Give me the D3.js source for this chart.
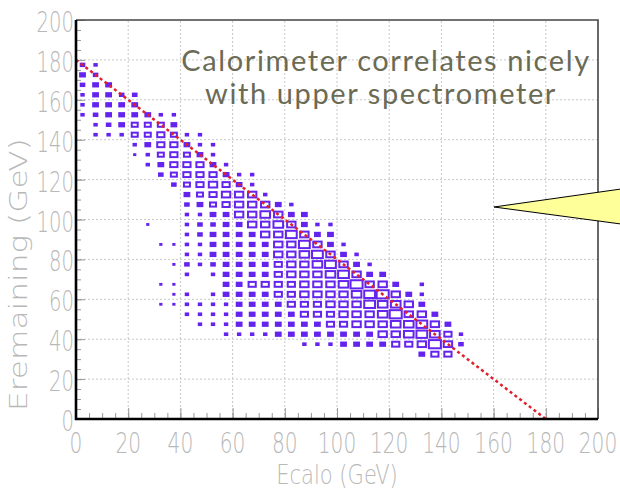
<!DOCTYPE html>
<html>
<head>
<meta charset="utf-8">
<title>Ecalo vs Eremaining</title>
<script src="https://cdnjs.cloudflare.com/ajax/libs/d3/7.8.5/d3.min.js"></script>
<style>
body { margin: 0; background: #fff; }
</style>
</head>
<body>
<div id="chart"></div>
<script>
// Ecalo bin centres (GeV), 5 GeV wide bins
var binX = [2.5, 7.5, 12.5, 17.5, 22.5, 27.5, 32.5, 37.5, 42.5, 47.5,
            52.5, 57.5, 62.5, 67.5, 72.5, 77.5, 82.5, 87.5, 92.5, 97.5,
            102.5, 107.5, 112.5, 117.5, 122.5, 127.5, 132.5, 137.5, 142.5, 147.5];
// highest Eremaining bin centre filled in each column
var binTop = [177.5, 177.5, 167.5, 162.5, 162.5, 152.5, 152.5, 152.5, 142.5, 142.5,
              137.5, 127.5, 122.5, 122.5, 112.5, 107.5, 107.5, 102.5, 97.5, 97.5,
              87.5, 82.5, 77.5, 72.5, 67.5, 62.5, 67.5, 52.5, 47.5, 42.5];
// bin contents going down from binTop in 5 GeV steps
var binCounts = [
  [3,4,3,2,2,2],
  [2,3,4,4,4,3,2,2],
  [4,4,4,4,3,2],
  [3,4,4,4,2],
  [3,4,4,5,5,2,1],
  [4,5,5,4,2,2,0,0,0,0,0,1],
  [2,5,6,6,5,4,3,0,0,0,0,0,0,1,0,0,0,1,0,1],
  [2,4,5,6,6,6,5,3,0,0,0,0,0,1,0,1,0,1,1,1],
  [2,4,5,6,6,5,4,3,2,2,2,2,2,3,2,0,2,2,2],
  [2,2,4,6,6,6,5,4,2,3,3,2,2,2,0,0,0,2,2,2],
  [2,2,4,6,7,6,5,4,3,4,4,4,3,2,0,2,2,2,2],
  [2,4,6,7,6,4,4,4,4,4,4,4,4,4,2,2,2,2],
  [2,4,7,7,7,4,4,4,4,4,4,4,4,4,4,4,2],
  [2,2,7,7,7,7,4,4,4,4,4,6,4,4,4,4,2],
  [2,7,8,7,7,4,4,4,4,6,4,4,4,4,2],
  [4,7,8,7,7,7,6,6,6,6,4,4,4,4],
  [2,4,7,9,7,7,7,7,6,6,6,4,4,4],
  [4,4,7,9,8,7,7,7,7,6,6,4,4,2],
  [2,4,7,9,8,7,7,7,6,6,4,4,2],
  [2,4,4,7,9,8,7,7,7,6,6,4,2],
  [2,4,7,9,8,7,7,7,6,4,4],
  [2,4,7,10,8,7,7,7,4,4],
  [2,4,7,9,9,7,7,4,4],
  [4,7,10,8,8,7,7,4],
  [4,7,8,10,8,7,6],
  [4,7,7,8,8,6],
  [2,2,4,7,9,9,7,4],
  [4,7,8,10,6],
  [4,6,7,6],
  [2,3]
];
var majorTicks = [0, 20, 40, 60, 80, 100, 120, 140, 160, 180, 200];
var gridTicks = [20, 40, 60, 80, 100, 120, 140, 160, 180];
var lineEnds = [[0, 180], [180, 0]];
var xTitle = "Ecalo (GeV)";
var yTitle = "Eremaining (GeV)";
var noteLines = ["Calorimeter correlates nicely", "with upper spectrometer"];

var width = 620, height = 497;
var svg = d3.select("#chart").append("svg")
  .attr("width", width)
  .attr("height", height);

var x = d3.scaleLinear().domain([0, 200]).range([76, 598]);
var y = d3.scaleLinear().domain([0, 200]).range([419, 20]);
var binW = x(5) - x(0), binH = y(0) - y(5);
var maxC = d3.max(binCounts, function(d) { return d3.max(d); });
var labelFont = "'DejaVu Sans', sans-serif";
var labelColor = "#b8b8b8";

// dotted grid
svg.append("g").selectAll("line").data(gridTicks).join("line")
  .attr("x1", function(d) { return x(d); }).attr("x2", function(d) { return x(d); })
  .attr("y1", y(0)).attr("y2", y(200))
  .attr("stroke", "#c8c8c8").attr("stroke-dasharray", "2,2");
svg.append("g").selectAll("line").data(gridTicks).join("line")
  .attr("y1", function(d) { return y(d); }).attr("y2", function(d) { return y(d); })
  .attr("x1", x(0)).attr("x2", x(200))
  .attr("stroke", "#c8c8c8").attr("stroke-dasharray", "2,2");

// minor and major ticks, pointing into the frame (labels drawn separately)
var xMinor = d3.axisBottom(x).ticks(40).tickSize(-6).tickFormat("");
var xMajor = d3.axisBottom(x).tickValues(majorTicks).tickSize(-11).tickFormat("");
var yMinor = d3.axisLeft(y).ticks(40).tickSize(-5).tickFormat("");
var yMajor = d3.axisLeft(y).tickValues(majorTicks).tickSize(-9).tickFormat("");

function styleAxis(g) {
  g.select(".domain").remove();
  g.selectAll(".tick line").attr("stroke", "#999");
}
svg.append("g").attr("transform", "translate(0," + y(0) + ")").call(xMinor).call(styleAxis);
svg.append("g").attr("transform", "translate(0," + y(0) + ")").call(xMajor).call(styleAxis);
svg.append("g").attr("transform", "translate(" + x(0) + ",0)").call(yMinor).call(styleAxis);
svg.append("g").attr("transform", "translate(" + x(0) + ",0)").call(yMajor).call(styleAxis);

// tick labels, condensed light look
svg.append("g").selectAll("text").data(majorTicks).join("text")
  .attr("transform", function(d) { return "translate(" + x(d) + ",453) scale(0.72,1)"; })
  .attr("text-anchor", "middle")
  .attr("fill", labelColor)
  .style("font-family", labelFont).style("font-weight", 200)
  .style("font-size", "28px")
  .text(function(d) { return d; });
svg.append("g").selectAll("text").data(majorTicks).join("text")
  .attr("transform", function(d) { return "translate(74," + (y(d) + 12) + ") scale(0.7,1)"; })
  .attr("text-anchor", "end")
  .attr("fill", labelColor)
  .style("font-family", labelFont).style("font-weight", 200)
  .style("font-size", "28px")
  .text(function(d) { return d; });

// boxes
var cells = [];
binX.forEach(function(bx, i) {
  binCounts[i].forEach(function(c, j) {
    if (c > 0) cells.push({ x: bx, y: binTop[i] - 5 * j, c: c });
  });
});
svg.append("g").selectAll("rect").data(cells).join("rect")
  .attr("x", function(d) { return x(d.x) - binW * 0.92 * d.c / maxC / 2; })
  .attr("y", function(d) { return y(d.y) - binH * 0.82 * d.c / maxC / 2; })
  .attr("width", function(d) { return binW * 0.92 * d.c / maxC; })
  .attr("height", function(d) { return binH * 0.82 * d.c / maxC; })
  .attr("fill", function(d) { return d.c <= 4 ? "#6424ee" : "#fff"; })
  .attr("stroke", "#6424ee")
  .attr("stroke-width", 2);

// expected correlation line
svg.append("line")
  .attr("x1", x(lineEnds[0][0])).attr("y1", y(lineEnds[0][1]))
  .attr("x2", x(lineEnds[1][0])).attr("y2", y(lineEnds[1][1]))
  .attr("stroke", "#e0202c").attr("stroke-width", 2.5)
  .attr("stroke-dasharray", "3,3");

// frame
svg.append("path")
  .attr("d", "M" + x(0) + "," + y(200) + "H" + x(200) + "V" + y(0))
  .attr("fill", "none").attr("stroke", "#444").attr("stroke-width", 1.6);
svg.append("path")
  .attr("d", "M" + x(0) + "," + y(200) + "V" + y(0) + "H" + x(200))
  .attr("fill", "none").attr("stroke", "#000").attr("stroke-width", 2.6);

// axis titles
svg.append("text")
  .attr("transform", "translate(" + (x(0) + x(200)) / 2 + ",484) scale(0.78,1)")
  .attr("text-anchor", "middle")
  .attr("fill", labelColor)
  .style("font-family", labelFont).style("font-weight", 200)
  .style("font-size", "27px")
  .text(xTitle);
svg.append("text")
  .attr("transform", "translate(27,411) rotate(-90) scale(1.3,1)")
  .attr("text-anchor", "start")
  .attr("fill", labelColor)
  .style("font-family", labelFont).style("font-weight", 200)
  .style("font-size", "24px")
  .text(yTitle);

// note
svg.append("g").selectAll("text").data(noteLines).join("text")
  .attr("x", function(d, i) { return i === 0 ? 386 : 381; })
  .attr("y", function(d, i) { return 71 + i * 33; })
  .attr("text-anchor", "middle")
  .attr("fill", "#6b6b55")
  .style("font-family", "Lato, sans-serif")
  .style("font-size", "29px")
  .style("letter-spacing", "1.6px")
  .text(function(d) { return d; });

// yellow callout pointer
svg.append("path")
  .attr("d", "M494,207L621,189L621,224Z")
  .attr("fill", "#ffff99")
  .attr("stroke", "#000")
  .attr("stroke-width", 1);
</script>
</body>
</html>
